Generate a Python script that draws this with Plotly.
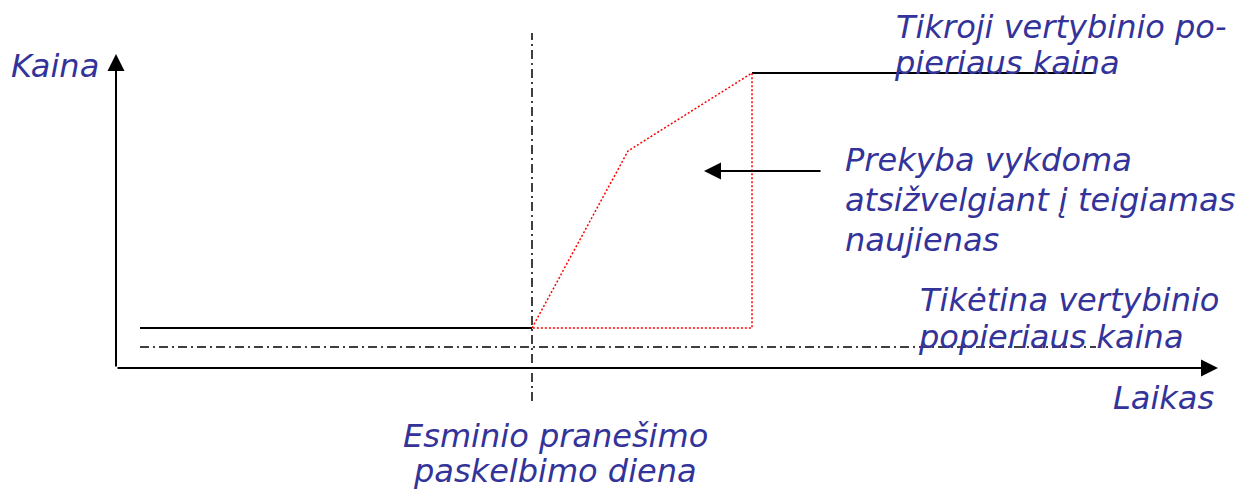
import plotly.graph_objects as go

# schematic units: time in "days" (announcement day = 0), price in arbitrary units
time_before = [-3.92, 0.0]
price_before = [4.0, 4.0]

time_reaction = [0.0, 0.96, 2.2, 2.2, 0.0]
price_reaction = [4.0, 21.7, 29.5, 4.0, 4.0]

time_after = [2.2, 5.63]
price_after = [29.5, 29.5]

time_expected = [-3.92, 5.64]
price_expected = [2.1, 2.1]

announce_time = [0.0, 0.0]
announce_span = [-3.3, 33.5]

TEXT_COLOR = "#333399"
FONT = dict(family="DejaVu Sans", size=32, color=TEXT_COLOR, style="italic")
DASHDOT = "9px,4px,2px,4px"

fig = go.Figure()

fig.add_trace(go.Scatter(x=announce_time, y=announce_span, mode="lines",
                         line=dict(color="black", width=1.5, dash=DASHDOT)))
fig.add_trace(go.Scatter(x=time_expected, y=price_expected, mode="lines",
                         line=dict(color="black", width=1.5, dash=DASHDOT)))
fig.add_trace(go.Scatter(x=time_before, y=price_before, mode="lines",
                         line=dict(color="black", width=2)))
fig.add_trace(go.Scatter(x=time_after, y=price_after, mode="lines",
                         line=dict(color="black", width=2)))
fig.add_trace(go.Scatter(x=time_reaction, y=price_reaction, mode="lines",
                         line=dict(color="red", width=1.5, dash="2px,2px")))

# axes drawn as arrows
arrows = [
    (-4.16, 0.0, -4.16, 31.4),   # price axis
    (-4.16, 0.0, 6.86, 0.0),     # time axis
    (2.9, 19.7, 1.72, 19.7),     # pointer to reaction area
]
for x0, y0, x1, y1 in arrows:
    fig.add_annotation(x=x1, y=y1, ax=x0, ay=y0, xref="x", yref="y", axref="x", ayref="y",
                       showarrow=True, arrowhead=2, arrowsize=1.7, arrowwidth=2,
                       arrowcolor="black", text="")

labels = [
    ("Kaina", -4.32, 30.2, "right"),
    ("Tikroji vertybinio po-", 3.63, 34.1, "left"),
    ("pieriaus kaina", 3.61, 30.5, "left"),
    ("Prekyba vykdoma", 3.12, 20.8, "left"),
    ("atsižvelgiant į teigiamas", 3.12, 16.8, "left"),
    ("naujienas", 3.12, 12.8, "left"),
    ("Tikėtina vertybinio", 3.87, 6.8, "left"),
    ("popieriaus kaina", 3.85, 3.1, "left"),
    ("Laikas", 6.83, -3.0, "right"),
    ("Esminio pranešimo", 0.23, -6.8, "center"),
    ("paskelbimo diena", 0.23, -10.3, "center"),
]
for text, x, y, anchor in labels:
    fig.add_annotation(x=x, y=y, xref="x", yref="y", text=text, showarrow=False,
                       xanchor=anchor, yanchor="middle", borderpad=0, font=FONT)

fig.update_layout(
    width=1238, height=492,
    margin=dict(l=0, r=0, t=0, b=0),
    paper_bgcolor="white", plot_bgcolor="white",
    showlegend=False,
    xaxis=dict(range=[-5.32, 7.06], visible=False, fixedrange=True),
    yaxis=dict(range=[-12.4, 36.8], visible=False, fixedrange=True),
)

# drop the default body margin so the figure fills the window exactly
fig.write_html("out.html", config={"displayModeBar": False},
               post_script="document.body.style.margin = '0';")
